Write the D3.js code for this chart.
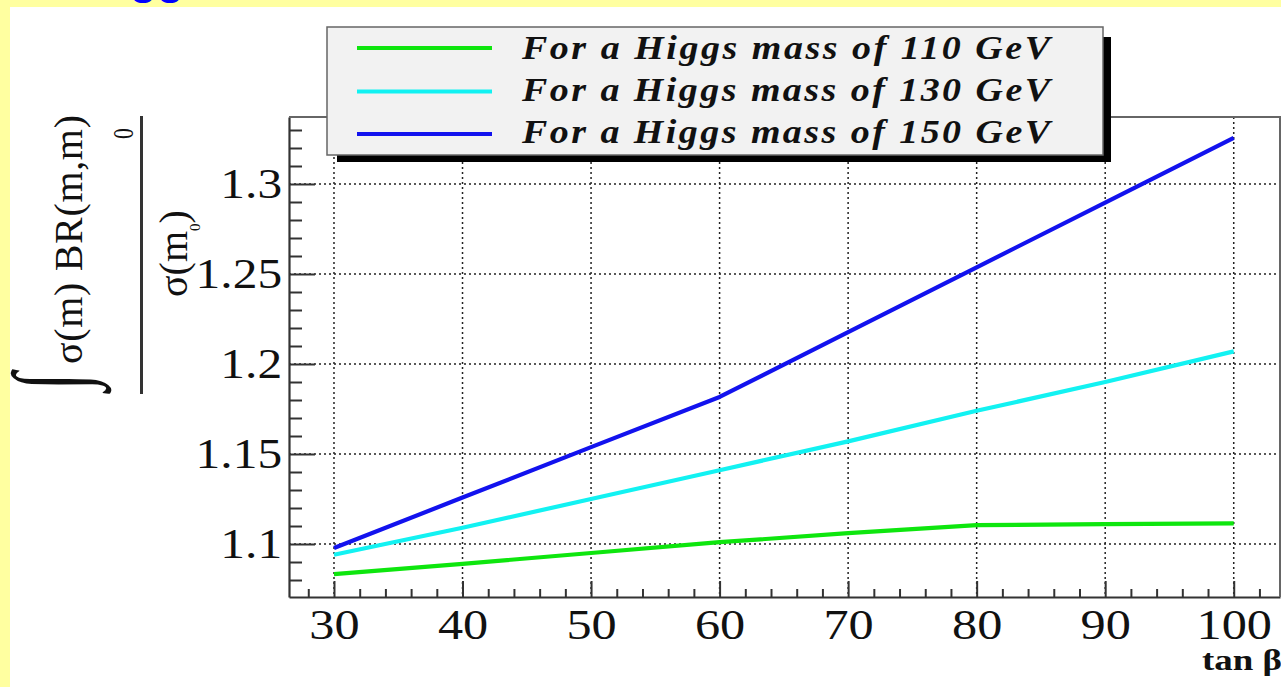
<!DOCTYPE html>
<html><head><meta charset="utf-8">
<script src="https://cdn.jsdelivr.net/npm/d3@7"></script>
<style>body{margin:0;overflow:hidden;background:#fff}</style>
</head><body>
<script>
// ---- data ----
const tanBeta = [30, 40, 50, 60, 70, 80, 90, 100];
const mass110 = [1.0833, 1.0890, 1.0950, 1.1010, 1.1060, 1.1105, 1.1110, 1.1115];
const mass130 = [1.0940, 1.1090, 1.1250, 1.1410, 1.1570, 1.1740, 1.1900, 1.2070];
const mass150 = [1.0978, 1.1258, 1.1538, 1.1817, 1.2177, 1.2537, 1.2897, 1.3256];
const seriesNames = ["For a Higgs mass of 110 GeV", "For a Higgs mass of 130 GeV", "For a Higgs mass of 150 GeV"];
const seriesColors = ["#0ee60e", "#12f2f2", "#1212ee"];
const xTicks = [30, 40, 50, 60, 70, 80, 90, 100];
const xTickLabels = ["30", "40", "50", "60", "70", "80", "90", "100"];
const yTicks = [1.1, 1.15, 1.2, 1.25, 1.3];
const yTickLabels = ["1.1", "1.15", "1.2", "1.25", "1.3"];

const W = 1281, H = 687;
const svg = d3.select("body").append("svg").attr("width", W).attr("height", H)
  .style("display", "block");

const L = 289, R = 1280, T = 117, B = 597;
const x = d3.scaleLinear().domain([26.5, 103.6]).range([L, R]);
const y = d3.scaleLinear().domain([1.07056, 1.33722]).range([B, T]);

svg.append("rect").attr("width", W).attr("height", H).attr("fill", "#fff");

const serif = "'Liberation Serif', 'Times New Roman', serif";

// grid
const grid = svg.append("g").attr("stroke", "#222").attr("stroke-width", 1.5).attr("stroke-dasharray", "2,3");
grid.selectAll("line.vx").data(xTicks).join("line").attr("class", "vx")
  .attr("x1", d => x(d)).attr("x2", d => x(d)).attr("y1", T).attr("y2", B);
grid.selectAll("line.hy").data(yTicks).join("line").attr("class", "hy")
  .attr("x1", L).attr("x2", R).attr("y1", d => y(d)).attr("y2", d => y(d));

// series
const series = [mass110, mass130, mass150];
const line = d3.line().x((d, i) => x(tanBeta[i])).y(d => y(d));
svg.append("g").selectAll("path").data(series).join("path")
  .attr("d", d => line(d)).attr("fill", "none")
  .attr("stroke", (d, i) => seriesColors[i]).attr("stroke-width", 4.2)
  .attr("stroke-linejoin", "round");

// minor ticks
const xMinor = d3.range(28, 103, 2).filter(v => v % 10 !== 0);
const yMinor = d3.range(108, 134, 1).map(v => v / 100).filter(v => Math.round(v * 100) % 5 !== 0);

const xMinorAxis = d3.axisBottom(x).tickValues(xMinor).tickSizeInner(-8).tickSizeOuter(0).tickFormat("");
const yMinorAxis = d3.axisLeft(y).tickValues(yMinor).tickSizeInner(-13).tickSizeOuter(0).tickFormat("");
svg.append("g").attr("transform", `translate(0,${B})`).call(xMinorAxis)
  .call(g => g.select(".domain").remove())
  .selectAll("line").attr("stroke", "#333").attr("stroke-width", 2);
svg.append("g").attr("transform", `translate(${L},0)`).call(yMinorAxis)
  .call(g => g.select(".domain").remove())
  .selectAll("line").attr("stroke", "#333").attr("stroke-width", 2);

// major axes
const xAxis = d3.axisBottom(x).tickValues(xTicks).tickSizeInner(-16).tickSizeOuter(0)
  .tickPadding(11).tickFormat((d, i) => xTickLabels[i]);
const yAxis = d3.axisLeft(y).tickValues(yTicks).tickSizeInner(-26).tickSizeOuter(0)
  .tickPadding(6).tickFormat((d, i) => yTickLabels[i]);

const gx = svg.append("g").attr("transform", `translate(0,${B})`).call(xAxis);
gx.attr("font-family", serif).attr("font-size", 43);
gx.select(".domain").attr("stroke", "#333").attr("stroke-width", 2.2);
gx.selectAll(".tick line").attr("stroke", "#333").attr("stroke-width", 2);
gx.selectAll(".tick text").attr("fill", "#111").attr("transform", "scale(1.17,1)");

const gy = svg.append("g").attr("transform", `translate(${L},0)`).call(yAxis);
gy.attr("font-family", serif).attr("font-size", 43);
gy.select(".domain").attr("stroke", "#333").attr("stroke-width", 2.2);
gy.selectAll(".tick line").attr("stroke", "#333").attr("stroke-width", 2);
gy.selectAll(".tick text").attr("fill", "#111").attr("transform", "scale(1.15,1)");

// frame top/right
svg.append("path").attr("d", `M${L},${T}H${R}V${B}`).attr("fill", "none")
  .attr("stroke", "#666").attr("stroke-width", 2);

// x title
svg.append("text").attr("x", 1202).attr("y", 670).attr("font-family", serif)
  .attr("font-weight", "bold").attr("font-size", 29).attr("fill", "#111")
  .attr("textLength", 80).attr("lengthAdjust", "spacingAndGlyphs").text("tan β");

// y title: numerator, fraction bar, denominator
const ylab = svg.append("g").attr("font-family", serif).attr("fill", "#111");
ylab.append("text").attr("transform", "translate(84,390.5) rotate(-90) scale(0.62,0.98)")
  .attr("font-size", 105).text("∫");
ylab.append("text").attr("transform", "translate(82,364) rotate(-90)")
  .attr("font-size", 40).attr("textLength", 249).attr("lengthAdjust", "spacing")
  .text("σ(m) BR(m,m)");
ylab.append("text").attr("transform", "translate(133,139) rotate(-90) scale(0.75,1)")
  .attr("font-size", 29).text("0");
ylab.append("line").attr("x1", 141.5).attr("x2", 141.5).attr("y1", 116).attr("y2", 394)
  .attr("stroke", "#333").attr("stroke-width", 3);
const den = ylab.append("text").attr("transform", "translate(187,297) rotate(-90)")
  .attr("font-size", 40);
den.append("tspan").text("σ(m");
den.append("tspan").attr("font-size", 15).attr("dy", 13).text("0");
den.append("tspan").attr("dy", -13).text(")");

// legend
const lg = svg.append("g");
lg.append("rect").attr("x", 337).attr("y", 37).attr("width", 774).attr("height", 125).attr("fill", "#000");
lg.append("rect").attr("x", 327).attr("y", 27).attr("width", 776).attr("height", 128)
  .attr("fill", "#f2f2f2").attr("stroke", "#666").attr("stroke-width", 1.5);
const rowY = [48, 91.5, 134];
const baseY = [59, 101, 143];
const sx = 1.15;
seriesNames.forEach((name, i) => {
  lg.append("line").attr("x1", 357).attr("x2", 492).attr("y1", rowY[i]).attr("y2", rowY[i])
    .attr("stroke", seriesColors[i]).attr("stroke-width", 4.2);
  lg.append("text").attr("transform", `translate(522,${baseY[i]}) scale(${sx},1)`)
    .attr("font-family", serif)
    .attr("font-style", "italic").attr("font-weight", "bold").attr("font-size", 33)
    .attr("fill", "#111").attr("textLength", 528 / sx).attr("lengthAdjust", "spacing").text(name);
});

// slide yellow border + cut-off title
svg.append("rect").attr("x", 0).attr("y", 0).attr("width", W).attr("height", 7).attr("fill", "#ffffa0");
svg.append("rect").attr("x", 0).attr("y", 0).attr("width", 10).attr("height", H).attr("fill", "#ffffa0");
svg.append("text").attr("x", 86).attr("y", -6).attr("font-family", "'Liberation Sans', Arial, sans-serif")
  .attr("font-weight", "bold").attr("font-size", 44).attr("fill", "#0000ff").text("Higgs");
</script>
</body></html>
